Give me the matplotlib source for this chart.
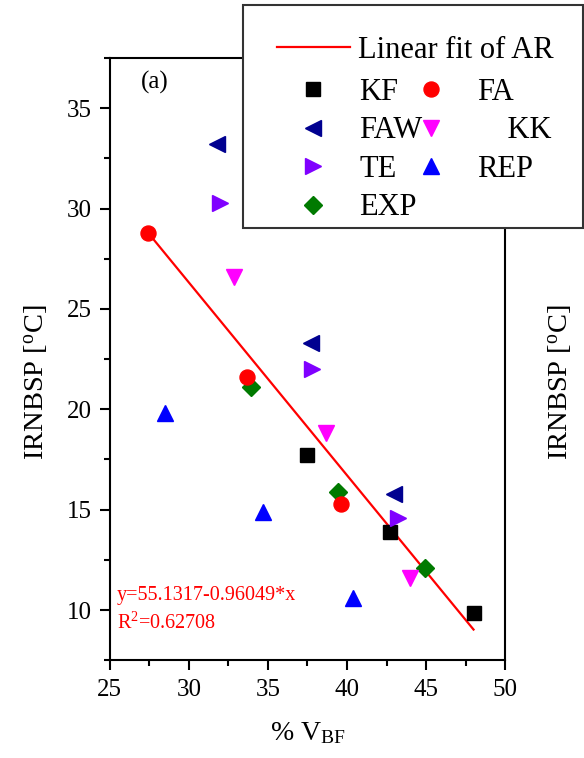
import numpy as np
import matplotlib
matplotlib.use("Agg")
import matplotlib.pyplot as plt
from matplotlib.patches import Rectangle
from matplotlib.ticker import MultipleLocator

plt.rcParams['font.family'] = 'Liberation Serif'
plt.rcParams['mathtext.fontset'] = 'custom'
plt.rcParams['mathtext.rm'] = 'Liberation Serif'
plt.rcParams['mathtext.it'] = 'Liberation Serif:italic'

# % V_BF and IRNBSP for each sample group
kf_x = [37.5, 42.7, 48.0]
kf_y = [17.7, 13.9, 9.85]
fa_x = [27.4, 33.7, 39.6]
fa_y = [28.8, 21.6, 15.3]
faw_x = [31.8, 37.7, 43.0]
faw_y = [33.2, 23.3, 15.8]
kk_x = [32.85, 38.7, 44.0]
kk_y = [26.6, 18.8, 11.6]
te_x = [32.0, 37.8, 43.2]
te_y = [30.3, 22.0, 14.6]
rep_x = [28.5, 34.7, 40.4]
rep_y = [19.8, 14.9, 10.6]
exp_x = [33.9, 39.4, 44.9]
exp_y = [21.1, 15.9, 12.1]

# linear fit of all points
intercept = 55.1317
slope = -0.96049
r2 = 0.62708

series = [
    ("KF", kf_x, kf_y, 's', '#000000', 9.4),
    ("FAW", faw_x, faw_y, '<', '#000090', 11.5),
    ("TE", te_x, te_y, '>', '#8000ff', 11.5),
    ("EXP", exp_x, exp_y, 'D', '#007a00', 9.5),
    ("FA", fa_x, fa_y, 'o', '#ff0000', 10.8),
    ("    KK", kk_x, kk_y, 'v', '#ff00ff', 11.5),
    ("REP", rep_x, rep_y, '^', '#0000ff', 11.5),
]

fig = plt.figure(figsize=(5.84, 7.58), dpi=100)
ax = fig.add_axes([0.188, 0.129, 0.677, 0.7945])

all_x = np.concatenate([s[1] for s in series])
x_fit = np.array([all_x.min(), all_x.max()])
fit_line, = ax.plot(x_fit, intercept + slope * x_fit, color='red', lw=1.6,
                    label='Linear fit of AR', zorder=2)

handles = []
for name, xs, ys, mk, col, ms in series:
    h, = ax.plot(xs, ys, linestyle='none', marker=mk, color=col, ms=ms,
                 label=name, zorder=3)
    handles.append(h)

ax.set_xlim(25, 50)
ax.set_ylim(7.5, 37.5)
ax.xaxis.set_major_locator(MultipleLocator(5))
ax.xaxis.set_minor_locator(MultipleLocator(2.5))
ax.yaxis.set_major_locator(MultipleLocator(5))
ax.yaxis.set_minor_locator(MultipleLocator(2.5))
ax.tick_params(which='major', direction='out', length=7.2, width=1.5,
               labelsize=18, pad=6)
ax.tick_params(which='minor', direction='out', length=4.3, width=1.5)
for sp in ax.spines.values():
    sp.set_linewidth(1.5)

ylab = r'IRNBSP [$^{\mathrm{o}}$C]'
ax.set_xlabel(r'% V$_{\mathrm{BF}}$', fontsize=20, labelpad=14)
ax.set_ylabel(ylab, fontsize=20.5)
ax.yaxis.set_label_coords(-0.15, 0.462)
ax.text(1.14, 0.462, ylab, fontsize=20.5, rotation=90,
        ha='center', va='center', transform=ax.transAxes)

ax.text(27.85, 36.3, '(a)', fontsize=18, ha='center', va='center')
ax.text(0.017, 0.108, 'y=55.1317-0.96049*x', fontsize=14.5, color='red',
        ha='left', va='center', transform=ax.transAxes)
ax.text(0.017, 0.062, r'R$^2$=%.5f' % r2, fontsize=14.5, color='red',
        ha='left', va='center', transform=ax.transAxes)

# legend box sitting over the top-right corner of the axes
frame = Rectangle((243 / 584, 1 - 228 / 758), 340 / 584, 223 / 758,
                  transform=fig.transFigure, facecolor='white',
                  edgecolor='#333333', lw=1.5, zorder=2)
fig.add_artist(frame)

leg1 = fig.legend(handles=[fit_line], loc='upper left',
                  bbox_to_anchor=(277 / 584, 1 - 36 / 758), frameon=False,
                  fontsize=22, handlelength=2.4, handletextpad=0.26,
                  borderpad=0, borderaxespad=0)
leg1.set_zorder(6)
leg2 = fig.legend(handles=handles, loc='upper left', ncol=2,
                  bbox_to_anchor=(304 / 584, 1 - 78 / 758), frameon=False,
                  fontsize=22, handlelength=0.6, handletextpad=1.2,
                  columnspacing=0.0, labelspacing=0.31,
                  borderpad=0, borderaxespad=0)
leg2.set_zorder(6)

fig.savefig('out.png', dpi=100)
